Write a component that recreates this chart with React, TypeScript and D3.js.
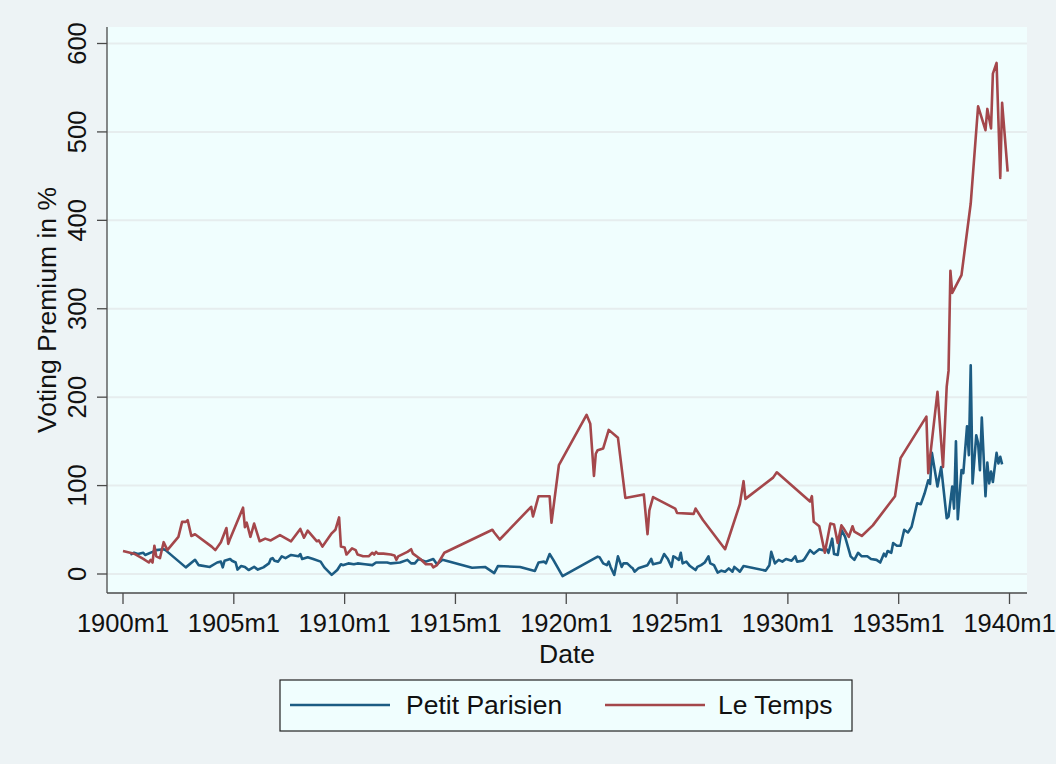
import React from "react";
import * as d3 from "d3";

const tempsDates = ["1900m1","1900m7","1900m12","1901m3","1901m4","1901m5","1901m6","1901m7","1901m9","1901m11","1902m1","1902m7","1902m9","1902m11","1902m12","1903m2","1903m4","1904m1","1904m3","1904m6","1904m9","1904m10","1904m11","1905m6","1905m7","1905m8","1905m10","1905m12","1906m3","1906m6","1906m9","1907m2","1907m8","1908m1","1908m3","1908m5","1908m10","1908m11","1909m1","1909m6","1909m8","1909m10","1909m11","1910m1","1910m2","1910m5","1910m7","1910m8","1910m11","1911m2","1911m4","1911m5","1911m6","1911m7","1911m10","1912m2","1912m4","1912m5","1912m6","1912m11","1913m1","1913m2","1913m6","1913m9","1913m12","1914m1","1914m3","1914m7","1916m9","1916m10","1917m1","1918m6","1918m7","1918m10","1919m4","1919m5","1919m9","1920m12","1921m2","1921m4","1921m5","1921m6","1921m9","1921m12","1922m5","1922m9","1923m7","1923m9","1923m10","1923m12","1924m12","1925m1","1925m10","1925m11","1926m3","1927m3","1927m11","1928m1","1928m2","1929m5","1929m7","1931m1","1931m2","1931m3","1931m6","1931m9","1931m12","1932m2","1932m4","1932m6","1932m7","1932m10","1932m12","1933m1","1933m5","1933m11","1934m11","1935m2","1936m4","1936m5","1936m10","1937m1","1937m3","1937m4","1937m5","1937m6","1937m11","1938m4","1938m8","1938m12","1939m1","1939m3","1939m4","1939m6","1939m8","1939m9","1939m12"];
const tempsValues = [26,23,17,13,16,13,32,20,18,36,27,42,59,59,61,43,45,31,27,36,52,34,40,75,53,58,42,57,37,40,38,44,37,51,41,49,37,38,31,46,50,64,31,30,22,29,27,22,20,20,24,22,25,23,23,22,21,16,20,25,28,23,17,11,11,7.5,10,24,50,47,39,76,65,88,88,58,123,180,170,111,136,140,142,163,154,86,90,45,72,87,74,69,68,74,61,28,79,105,85,109,115,82,88,59,54,24,57,56,35,55,52,42,54,48,43,55,88,131,178,114,206,121,212,230,343,318,338,419,529,502,526,504,566,578,448,533,455];

const petitDates = ["1900m5","1900m7","1900m9","1900m12","1901m1","1901m5","1901m7","1901m11","1901m12","1902m11","1903m4","1903m6","1903m12","1904m4","1904m6","1904m7","1904m8","1904m11","1904m12","1905m2","1905m3","1905m5","1905m7","1905m9","1905m12","1906m2","1906m5","1906m8","1906m9","1906m10","1906m11","1907m1","1907m3","1907m5","1907m8","1907m12","1908m1","1908m2","1908m5","1908m8","1908m12","1909m2","1909m6","1909m9","1909m11","1909m12","1910m3","1910m6","1910m8","1910m12","1911m4","1911m6","1911m12","1912m2","1912m7","1912m11","1913m1","1913m3","1913m5","1913m9","1914m1","1914m3","1914m6","1914m8","1915m10","1916m5","1916m10","1916m12","1917m12","1918m8","1918m10","1919m1","1919m2","1919m4","1919m6","1919m11","1921m6","1921m7","1921m9","1921m11","1921m12","1922m1","1922m3","1922m5","1922m7","1922m8","1922m10","1922m12","1923m1","1923m2","1923m4","1923m9","1923m11","1923m12","1924m4","1924m6","1924m8","1924m10","1924m11","1924m12","1925m2","1925m3","1925m4","1925m6","1925m8","1925m11","1925m12","1926m2","1926m4","1926m6","1926m7","1926m9","1926m11","1927m1","1927m3","1927m5","1927m7","1927m8","1927m10","1927m11","1928m1","1929m1","1929m3","1929m4","1929m6","1929m8","1929m10","1929m12","1930m3","1930m5","1930m6","1930m9","1930m10","1931m1","1931m3","1931m6","1931m8","1931m10","1931m11","1932m1","1932m2","1932m4","1932m6","1932m8","1932m11","1933m1","1933m3","1933m5","1933m8","1933m10","1934m1","1934m3","1934m5","1934m6","1934m7","1934m9","1934m10","1934m12","1935m2","1935m4","1935m6","1935m8","1935m11","1936m1","1936m3","1936m5","1936m6","1936m7","1936m10","1936m12","1937m3","1937m4","1937m6","1937m7","1937m8","1937m9","1937m11","1937m12","1938m2","1938m3","1938m4","1938m5","1938m7","1938m8","1938m9","1938m10","1938m12","1939m1","1939m2","1939m3","1939m4","1939m6","1939m7","1939m8","1939m9"];
const petitValues = [22,24,22.6,24,21.5,25,27,28,27,7.5,16,10,8,13,14,7.5,15,17,15,13,5,9,8,4.5,8,5,7.5,12,17,18,15,14,20,18,21.5,20,22.6,17,19,17,14,7.5,-1,4.5,11,10,12,11,12,11,10,13,13,12,13,16,12,12,17,14,17,11,16,15,7,8,1,9,8,3.4,13,14,12,22.6,16,-2.3,19.6,19,12,10,14,8,-1,20,8,12,12,8,6.4,2.6,6.4,10,17,11,13,22.6,17,8,20,19,16,24,12,14,9,4.5,8,10,13,20,12,10,1.5,3.8,2.6,6.4,2.6,8,4.5,2.6,9,3.8,10,25,12,16,14,17,15,20,14,15,17,27,23,28,27,28,24,40,22.6,21.5,50,42,20,16,24,20,20,17,16,13,23,20,26,24,35,32,32,50,47,53.5,80,79,91,106,102,137,99,121,63,65,99,74,150,62,117.5,114,167,134.5,236,102.5,157,148,117.5,177,88,126,102.5,116,104,137,125,132.5,124];

const xTickLabels = ["1900m1","1905m1","1910m1","1915m1","1920m1","1925m1","1930m1","1935m1","1940m1"];
const yTickValues = [0,100,200,300,400,500,600];

const seriesNames = ["Petit Parisien", "Le Temps"];
const seriesColors = ["#1C5C83", "#A4474B"];

const W = 1056, H = 764;
const plot = { left: 107, right: 1027, top: 27, bottom: 593 };
const FONT = "'Liberation Sans', Arial, Helvetica, sans-serif";

function monthIndex(s: string): number {
  const [y, m] = s.split("m").map(Number);
  return (y - 1900) * 12 + (m - 1);
}

export default function App() {
  const x = d3.scaleLinear().domain([0, 480]).range([123, 1009.5]);
  const y = d3.scaleLinear().domain([0, 600]).range([574, 43.5]);

  const line = d3
    .line<[number, number]>()
    .x((d) => x(d[0]))
    .y((d) => y(d[1]));

  const petit: [number, number][] = petitDates.map((d, i) => [monthIndex(d), petitValues[i]]);
  const temps: [number, number][] = tempsDates.map((d, i) => [monthIndex(d), tempsValues[i]]);

  const axisColor = "#4a4a4a";
  const gridColor = "#E6EDEE";

  return (
    <svg
      width={W}
      height={H}
      style={{ position: "absolute", left: 0, top: 0, display: "block" }}
      fontFamily={FONT}
    >
      <rect x={0} y={0} width={W} height={H} fill="#EDF3F5" />
      <rect
        x={plot.left}
        y={plot.top}
        width={plot.right - plot.left}
        height={plot.bottom - plot.top}
        fill="#F0FEFE"
      />
      {yTickValues.map((v) => (
        <line
          key={"g" + v}
          x1={plot.left}
          x2={plot.right}
          y1={y(v)}
          y2={y(v)}
          stroke={gridColor}
          strokeWidth={2}
        />
      ))}
      <path d={line(petit) || ""} fill="none" stroke={seriesColors[0]} strokeWidth={2.6} strokeLinejoin="round" />
      <path d={line(temps) || ""} fill="none" stroke={seriesColors[1]} strokeWidth={2.6} strokeLinejoin="round" />

      {/* y axis */}
      <line x1={plot.left} x2={plot.left} y1={plot.top} y2={plot.bottom} stroke={axisColor} strokeWidth={1.3} />
      {yTickValues.map((v) => (
        <g key={"yt" + v}>
          <line x1={plot.left - 10} x2={plot.left} y1={y(v)} y2={y(v)} stroke={axisColor} strokeWidth={1.3} />
          <text
            transform={`translate(${86},${y(v)}) rotate(-90)`}
            textAnchor="middle"
            fontSize={25.5}
            fill="#111"
          >
            {v}
          </text>
        </g>
      ))}
      <text
        transform={`translate(${56},${(plot.top + plot.bottom) / 2}) rotate(-90)`}
        textAnchor="middle"
        fontSize={26.5}
        fill="#111"
      >
        Voting Premium in %
      </text>

      {/* x axis */}
      <line x1={plot.left} x2={plot.right} y1={plot.bottom} y2={plot.bottom} stroke={axisColor} strokeWidth={1.3} />
      {xTickLabels.map((t) => (
        <g key={"xt" + t}>
          <line x1={x(monthIndex(t))} x2={x(monthIndex(t))} y1={plot.bottom} y2={plot.bottom + 11} stroke={axisColor} strokeWidth={1.3} />
          <text x={x(monthIndex(t))} y={632} textAnchor="middle" fontSize={25.5} fill="#111">
            {t}
          </text>
        </g>
      ))}
      <text x={(plot.left + plot.right) / 2} y={663} textAnchor="middle" fontSize={26.5} fill="#111">
        Date
      </text>

      {/* legend */}
      <rect x={280} y={680} width={572} height={51} fill="#F0FEFE" stroke="#222" strokeWidth={1.2} />
      <line x1={290} x2={390} y1={705} y2={705} stroke={seriesColors[0]} strokeWidth={2.6} />
      <text x={406} y={714} fontSize={26.5} fill="#111">{seriesNames[0]}</text>
      <line x1={605} x2={705} y1={705} y2={705} stroke={seriesColors[1]} strokeWidth={2.6} />
      <text x={718} y={714} fontSize={26.5} fill="#111">{seriesNames[1]}</text>
    </svg>
  );
}
